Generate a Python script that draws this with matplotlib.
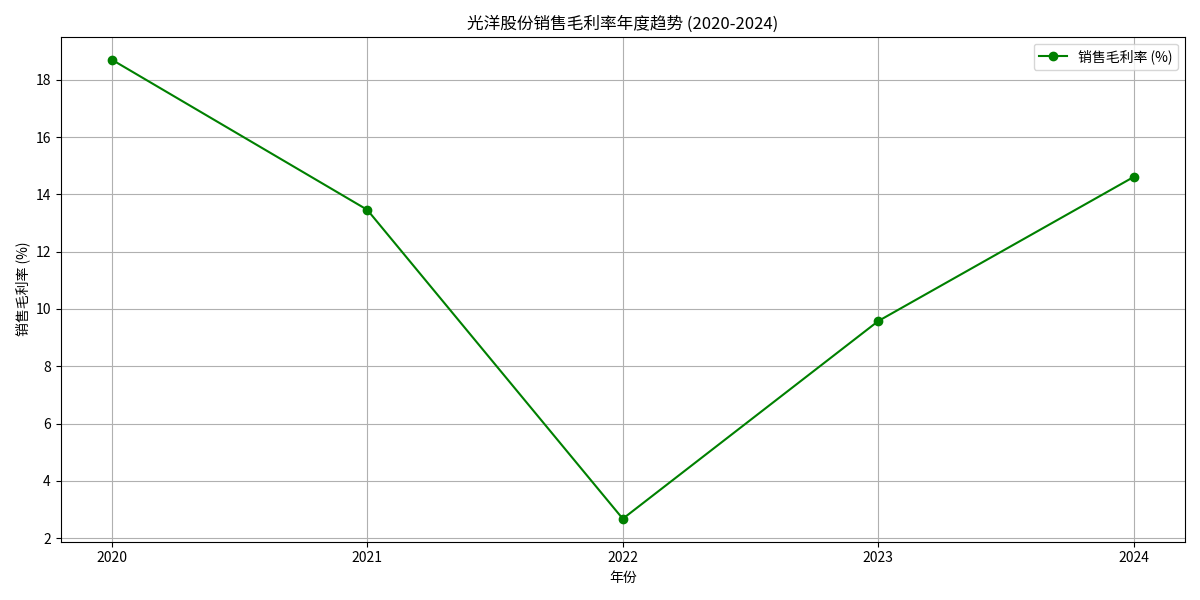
import matplotlib
matplotlib.use("Agg")
import matplotlib.pyplot as plt

plt.rcParams['font.family'] = ['Noto Sans CJK SC', 'DejaVu Sans']
plt.rcParams['axes.unicode_minus'] = False

years = [2020, 2021, 2022, 2023, 2024]
margin = [18.70, 13.46, 2.68, 9.58, 14.61]

fig, ax = plt.subplots(figsize=(12, 6), dpi=100)
ax.plot(years, margin, marker='o', color='green', label='销售毛利率 (%)')
ax.set_title('光洋股份销售毛利率年度趋势 (2020-2024)')
ax.set_xlabel('年份')
ax.set_ylabel('销售毛利率 (%)')
ax.set_xticks(years)
ax.grid(True)
ax.legend(loc='upper right')
fig.tight_layout()
fig.savefig('out.png')
